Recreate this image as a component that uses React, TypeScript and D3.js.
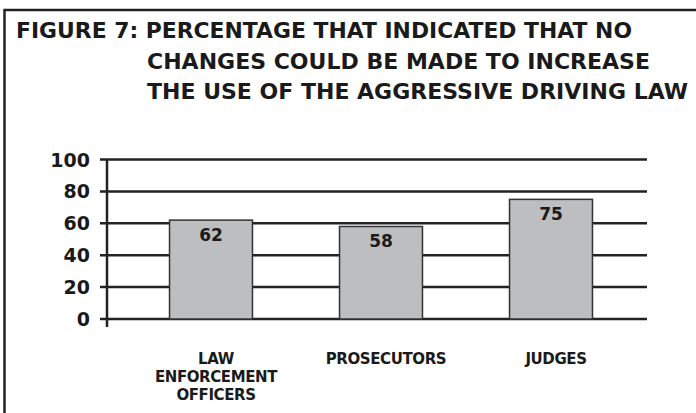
import React, { useEffect, useRef } from "react";
import * as d3 from "d3";

const categories = ["LAW ENFORCEMENT OFFICERS", "PROSECUTORS", "JUDGES"];
const categoryLines = [["LAW", "ENFORCEMENT", "OFFICERS"], ["PROSECUTORS"], ["JUDGES"]];
const values = [62, 58, 75];
const yTicks = [0, 20, 40, 60, 80, 100];
const titleLines = [
  "FIGURE 7: PERCENTAGE THAT INDICATED THAT NO",
  "CHANGES COULD BE MADE TO INCREASE",
  "THE USE OF THE AGGRESSIVE DRIVING LAW",
];

const W = 696;
const H = 413;
const font = "'DejaVu Sans', Verdana, sans-serif";

const App = () => {
  const svgRef = useRef<SVGSVGElement>(null);

  useEffect(() => {
    const svg = d3.select(svgRef.current);
    svg.selectAll("*").remove();

    // frame (left and top edges only show)
    svg
      .append("path")
      .attr("d", `M4.5,${H} L4.5,10 L${W},10`)
      .attr("fill", "none")
      .attr("stroke", "#222")
      .attr("stroke-width", 2.5);

    // title
    const titleX = [16, 147, 147];
    const titleLen = [616, 503, 541];
    const titleY = [38, 69, 99];
    svg
      .selectAll(".title")
      .data(titleLines)
      .enter()
      .append("text")
      .attr("x", (d, i) => titleX[i])
      .attr("y", (d, i) => titleY[i])
      .attr("textLength", (d, i) => titleLen[i])
      .attr("lengthAdjust", "spacingAndGlyphs")
      .attr("font-family", font)
      .attr("font-weight", "bold")
      .attr("font-size", 22)
      .attr("fill", "#1a1a1a")
      .text((d) => d);

    const x0 = 107;
    const x1 = 647;
    const y = d3.scaleLinear().domain([0, 100]).range([319, 159.5]);
    const x = d3
      .scaleBand()
      .domain(categories)
      .range([126, 636])
      .paddingInner(0.512)
      .paddingOuter(0.256);

    // gridlines
    svg
      .append("g")
      .selectAll("line")
      .data(yTicks)
      .enter()
      .append("line")
      .attr("x1", x0 - 7)
      .attr("x2", x1)
      .attr("y1", (d) => y(d))
      .attr("y2", (d) => y(d))
      .attr("stroke", "#222")
      .attr("stroke-width", 2.5);

    // y axis
    svg
      .append("line")
      .attr("x1", x0)
      .attr("x2", x0)
      .attr("y1", y(100))
      .attr("y2", y(0) + 8)
      .attr("stroke", "#222")
      .attr("stroke-width", 2.5);

    svg
      .append("g")
      .selectAll("text")
      .data(yTicks)
      .enter()
      .append("text")
      .attr("x", 90)
      .attr("y", (d) => y(d) + 7)
      .attr("text-anchor", "end")
      .attr("font-family", font)
      .attr("font-weight", "bold")
      .attr("font-size", 19)
      .attr("fill", "#1a1a1a")
      .text((d) => d);

    // bars
    svg
      .append("g")
      .selectAll("rect")
      .data(values)
      .enter()
      .append("rect")
      .attr("x", (d, i) => x(categories[i])!)
      .attr("y", (d) => y(d))
      .attr("width", x.bandwidth())
      .attr("height", (d) => y(0) - y(d))
      .attr("fill", "#bdbec0")
      .attr("stroke", "#333")
      .attr("stroke-width", 1.5);

    // value labels
    svg
      .append("g")
      .selectAll("text")
      .data(values)
      .enter()
      .append("text")
      .attr("x", (d, i) => x(categories[i])! + x.bandwidth() / 2)
      .attr("y", (d) => y(d) + 21)
      .attr("text-anchor", "middle")
      .attr("font-family", font)
      .attr("font-weight", "bold")
      .attr("font-size", 17)
      .attr("fill", "#1a1a1a")
      .text((d) => d);

    // category labels
    const cat = svg
      .append("g")
      .selectAll("text")
      .data(categoryLines)
      .enter()
      .append("text")
      .attr("text-anchor", "middle")
      .attr("font-family", font)
      .attr("font-weight", "bold")
      .attr("font-size", 15)
      .attr("letter-spacing", -0.4)
      .attr("fill", "#1a1a1a");
    cat
      .selectAll("tspan")
      .data((d, i) => d.map((t) => ({ t, i })))
      .enter()
      .append("tspan")
      .attr("x", (d) => x(categories[d.i])! + x.bandwidth() / 2 + 5)
      .attr("y", (d, j) => 364 + j * 18)
      .text((d) => d.t);
  }, []);

  return (
    <svg
      ref={svgRef}
      width={W}
      height={H}
      style={{ position: "absolute", left: 0, top: 0, background: "#fff" }}
    ></svg>
  );
};

export default App;
